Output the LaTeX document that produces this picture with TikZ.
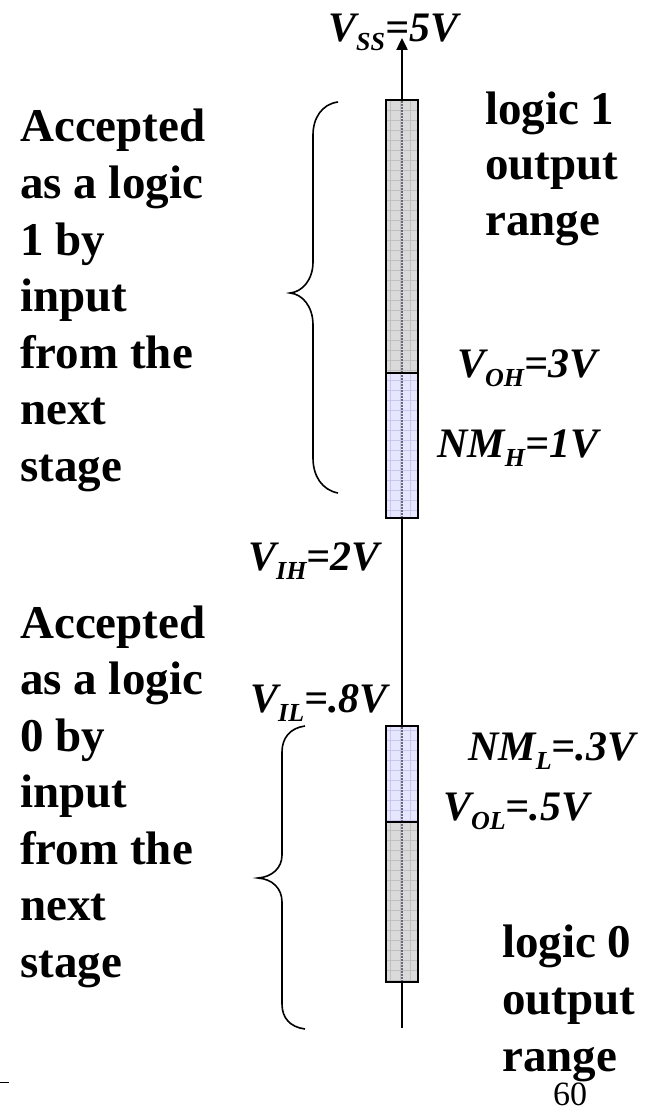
\documentclass[tikz,border=0pt]{standalone}
\usepackage{fontspec}
\setmainfont{Liberation Serif}
\usetikzlibrary{arrows.meta}
\definecolor{barGray}{RGB}{218,218,218}
\definecolor{gridGray}{RGB}{192,192,192}
\definecolor{barBlue}{RGB}{230,230,255}
\definecolor{gridBlue}{RGB}{200,200,238}
\definecolor{midLine}{RGB}{105,105,120}
\newcommand\lowsub[1]{\raisebox{-9pt}{\fontsize{26}{26}\selectfont #1}}
\tikzset{
  bigtxt/.style={font=\fontsize{47}{55}\selectfont\bfseries, inner sep=0pt, anchor=base west},
  vlab/.style={font=\fontsize{42}{42}\selectfont\bfseries\itshape, inner sep=0pt, anchor=base west},
  barbox/.style={draw=none, minimum width=32pt, inner sep=0pt, outer sep=0pt},
  barframe/.style={draw=black, line width=2.4pt},
  gridline/.style={line width=0.6pt},
  midline/.style={draw=midLine, line width=2pt, dash pattern=on 2pt off 1pt},
  bracestyle/.style={line width=1.6pt},
  axisline/.style={line width=2.4pt}
}
\begin{document}
\begin{tikzpicture}[x=1pt,y=-1pt]
\useasboundingbox (0,0) rectangle (653,1110);
% axis
\coordinate (axbot) at (402,1028);
\coordinate (axtop) at (402,38);
\draw[axisline,-{Triangle[length=12pt,width=11pt]}] (axbot) -- (axtop);
% bars
\node[barbox, fill=barGray, minimum height=273pt] (hiG) at (402,236.5) {};
\node[barbox, fill=barBlue, minimum height=145pt] (hiB) at (402,445.5) {};
\node[barbox, fill=barBlue, minimum height=96pt] (loB) at (402,774) {};
\node[barbox, fill=barGray, minimum height=160pt] (loG) at (402,902) {};
\foreach \b/\c in {hiG/gridGray, hiB/gridBlue, loB/gridBlue, loG/gridGray}{
  \begin{scope}
    \clip (\b.south west) rectangle (\b.north east);
    \draw[gridline, draw=\c, step=10pt] ([xshift=-1pt]\b.south west) grid ([xshift=1pt]\b.north east);
  \end{scope}
  \draw[midline] (\b.south) -- (\b.north);
}
\draw[barframe] (hiG.north west) rectangle (hiB.south east);
\draw[barframe] (hiG.south west) -- (hiG.south east);
\draw[barframe] (loB.north west) rectangle (loG.south east);
\draw[barframe] (loB.south west) -- (loB.south east);
% braces
\draw[bracestyle] (338,102) .. controls (322,104) and (313,118) .. (313,135) -- (313,262)
  .. controls (313,280) and (302,292) .. (290,293)
  .. controls (302,294) and (313,306) .. (313,325) -- (313,458)
  .. controls (313,476) and (322,490) .. (338,493);
\draw[bracestyle] (305,726) .. controls (290,728) and (282,738) .. (282,752) -- (282,855)
  .. controls (282,868) and (272,877) .. (258,878)
  .. controls (272,879) and (282,888) .. (282,902) -- (282,1004)
  .. controls (282,1018) and (290,1027) .. (305,1029);
% left texts
\foreach \t [count=\i] in {Accepted,as a logic,1 by,input,from the,next,stage}
  \node[bigtxt] (ua\i) at (20,{142+(\i-1)*56.5}) {\t};
\foreach \t [count=\i] in {Accepted,as a logic,0 by,input,from the,next,stage}
  \node[bigtxt] (la\i) at (20,{638+(\i-1)*56.5}) {\t};
% right texts
\foreach \t [count=\i] in {logic 1,output,range}
  \node[bigtxt] (ur\i) at (485,{125+(\i-1)*55}) {\t};
\foreach \t [count=\i] in {logic 0,output,range}
  \node[bigtxt] (lr\i) at (502,{957+(\i-1)*57}) {\t};
% voltage labels
\node[vlab] (vss) at (328,42) {V\lowsub{SS}=5V};
\node[vlab] (voh) at (457,377) {V\lowsub{OH}=3V};
\node[vlab] (nmh) at (437,457) {NM\lowsub{H}=1V};
\node[vlab] (vih) at (248,570) {V\lowsub{IH}=2V};
\node[vlab] (vil) at (250,712) {V\lowsub{IL}=.8V};
\node[vlab] (nml) at (468,760) {NM\lowsub{L}=.3V};
\node[vlab] (vol) at (443,820) {V\lowsub{OL}=.5V};
% page number and dash
\node[inner sep=0pt, anchor=base west, font=\fontsize{34}{34}\selectfont] (pgnum) at (553,1105) {60};
\coordinate (dashA) at (0,1082);
\coordinate (dashB) at (9,1082);
\draw[line width=1pt] (dashA) -- (dashB);
\end{tikzpicture}
\end{document}
